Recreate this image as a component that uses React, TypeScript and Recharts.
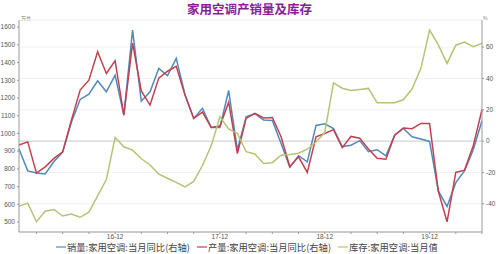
import { LineChart, Line, XAxis, YAxis, CartesianGrid, ReferenceLine } from "recharts";

const months = [
  "16-01", "16-02", "16-03", "16-04", "16-05", "16-06", "16-07", "16-08", "16-09", "16-10", "16-11", "16-12",
  "17-01", "17-02", "17-03", "17-04", "17-05", "17-06", "17-07", "17-08", "17-09", "17-10", "17-11", "17-12",
  "18-01", "18-02", "18-03", "18-04", "18-05", "18-06", "18-07", "18-08", "18-09", "18-10", "18-11", "18-12",
  "19-01", "19-02", "19-03", "19-04", "19-05", "19-06", "19-07", "19-08", "19-09", "19-10", "19-11", "19-12",
  "20-01", "20-02", "20-03", "20-04", "20-05", "20-06",
];

// 销量:当月同比 (%)
const salesYoy = [
  -5, -19, -20.3, -21, -13, -7, 12, 26.6, 30, 38.5, 31.5, 42.1,
  16.6, 70.8, 25.5, 31.5, 46.4, 41.8, 52.8, 29.8, 14.5, 20.9, 8.7, 8.7,
  32.3, -5.7, 15.5, 17.5, 13.4, 13.2, -1.5, -16.6, -9.3, -13.2, 10, 11,
  8, -3.5, -2.6, 0.3, -6.8, -5.5, -9.4, 3.8, 8.1, 2.8, 1.4, -0.2,
  -31.8, -41.7, -26.5, -19, -5.5, 13,
];

// 产量:当月同比 (%)
const prodYoy = [
  -2.5, -0.5, -20.4, -16.4, -11, -6.8, 13.4, 32.6, 38.9, 57, 43.2, 51.3,
  16.6, 62.5, 32, 23, 40.2, 44.6, 47.7, 29.5, 14.5, 18.5, 8.7, 9.6,
  24.8, -7.9, 14.5, 17.7, 14.8, 15.1, 2.8, -16.4, -10, -20, 2.8, 4.9,
  7.3, -4.2, 3, 1.8, -5, -11, -11.5, 3.8, 8.3, 7.9, 11.3, 11.3,
  -32, -51.5, -20, -18.5, -3, 20,
];

// 库存:当月值 (万台)
const stock = [
  590, 607, 502, 561, 571, 534, 545, 527, 556, 648, 740, 977,
  925, 906, 857, 822, 770, 747, 724, 699, 729, 819, 930, 1094,
  1025, 1000, 897, 884, 831, 835, 877, 881, 888, 911, 952, 1005,
  1285, 1255, 1242, 1248, 1254, 1173, 1173, 1173, 1190, 1252, 1366, 1583,
  1500, 1395, 1498, 1516, 1490, 1508,
];

const leftTicks = [500, 600, 700, 800, 900, 1000, 1100, 1200, 1300, 1400, 1500, 1600];
const rightTicks = [-40, -20, 0, 20, 40, 60];
const xTicks = months.filter((_, i) => i % 3 === 2);

const series = [
  { key: "sales", name: "销量:家用空调:当月同比(右轴)", color: "#5289bd", axis: "right" },
  { key: "prod", name: "产量:家用空调:当月同比(右轴)", color: "#c2414f", axis: "right" },
  { key: "stock", name: "库存:家用空调:当月值", color: "#b7c274", axis: "left" },
];

const rows = months.map((m, i) => ({ m, sales: salesYoy[i], prod: prodYoy[i], stock: stock[i] }));

const font = "'Noto Sans CJK SC', 'Noto Sans', sans-serif";
const tickStyle = { fontSize: 6.5, fill: "#555", fontFamily: "Arial, 'Liberation Sans', sans-serif" };

export default function App() {
  return (
    <div style={{ position: "absolute", left: 0, top: 0, width: 499, height: 254, background: "#fff", fontFamily: font }}>
      <div style={{ position: "absolute", left: 0, top: 1, width: 499, textAlign: "center", fontSize: 12.5, fontWeight: 700, color: "#8b1c96", lineHeight: "15px" }}>
        家用空调产销量及库存
      </div>
      <div style={{ position: "absolute", left: 21, top: 14, fontSize: 5, color: "#777" }}>万台</div>
      <div style={{ position: "absolute", left: 483, top: 14, fontSize: 5, color: "#777" }}>%</div>
      <LineChart width={499} height={254} data={rows} margin={{ top: 20, right: 0, bottom: 0, left: 0 }}>
        <CartesianGrid yAxisId="right" vertical={false} stroke="#f1f1f1" />
        <XAxis
          dataKey="m"
          ticks={xTicks}
          interval={0}
          tickFormatter={(v: string) => (v.endsWith("-12") ? v : "")}
          tick={{ ...tickStyle, dy: -2 }}
          tickSize={2}
          stroke="#9a9a9a"
          height={22}
          padding={{ left: 0, right: 0 }}
        />
        <YAxis
          yAxisId="left"
          orientation="left"
          domain={[444, 1640]}
          ticks={leftTicks}
          width={19}
          tick={tickStyle}
          tickSize={2}
          stroke="#9a9a9a"
          allowDataOverflow
        />
        <YAxis
          yAxisId="right"
          orientation="right"
          domain={[-58, 77.3]}
          ticks={rightTicks}
          width={17}
          tick={tickStyle}
          tickSize={2}
          stroke="#9a9a9a"
          allowDataOverflow
        />
        <ReferenceLine yAxisId="right" y={0} stroke="#cfcfcf" strokeWidth={1} />
        {series.map((s) => (
          <Line
            key={s.key}
            yAxisId={s.axis}
            dataKey={s.key}
            name={s.name}
            stroke={s.color}
            strokeWidth={1.5}
            dot={false}
            type="linear"
            isAnimationActive={false}
          />
        ))}
      </LineChart>
      <div style={{ position: "absolute", left: 56, top: 241, fontSize: 9.3, lineHeight: "12px", color: "#444", whiteSpace: "nowrap", display: "flex", gap: 7 }}>
        {series.map((s) => (
          <span key={s.key} style={{ display: "flex", alignItems: "center" }}>
            <svg width={10} height={4} style={{ marginRight: 1 }}>
              <line x1={0} y1={2} x2={10} y2={2} stroke={s.color} strokeWidth={1.2} />
            </svg>
            {s.name}
          </span>
        ))}
      </div>
    </div>
  );
}
